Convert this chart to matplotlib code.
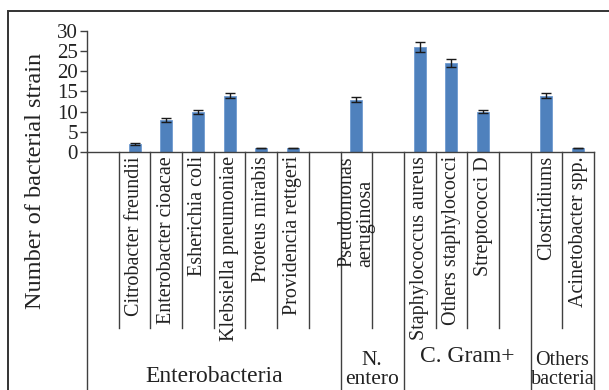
import numpy as np
import matplotlib
matplotlib.use("Agg")
import matplotlib.pyplot as plt
from matplotlib.patches import Rectangle

plt.rcParams['font.family'] = ['Liberation Serif', 'DejaVu Serif']

# Category slots (blank entries are spacer slots inside a group)
categories = ["", "Citrobacter freundii", "Enterobacter cioacae", "Esherichia coli",
              "Klebsiella pneumoniae", "Proteus mirabis", "Providencia rettgeri", "",
              "Pseudomonas\naeruginosa", "",
              "Staphylococcus aureus", "Others staphylococci", "Streptococci D", "",
              "Clostridiums", "Acinetobacter spp."]
counts = [np.nan, 2, 8, 10, 14, 1, 1, np.nan, 13, np.nan, 26, 22, 10, np.nan, 14, 1]
errors = [np.nan, 0.15, 0.5, 0.5, 0.7, 0.1, 0.1, np.nan, 0.6, np.nan, 1.3, 1.0, 0.45, np.nan, 0.65, 0.1]
group_names = ["Enterobacteria", "N.\nentero", "C. Gram+", "Others\nbacteria"]
group_sizes = [8, 2, 4, 2]

W, H, DPI = 609, 390, 100
fig = plt.figure(figsize=(W / DPI, H / DPI), dpi=DPI)

# axes placed in pixel terms
x0, x1, ytop, ybot = 87, 594, 31, 152
ax = fig.add_axes([x0 / W, (H - ybot) / H, (x1 - x0) / W, (ybot - ytop) / H])
ax_h = ybot - ytop

def ay(px):
    """figure pixel row -> axes fraction"""
    return (ybot - px) / ax_h

n = len(categories)
x = np.arange(n)
ax.bar(x, counts, width=0.38, color="#4F81BD", edgecolor="#6F9BD1", linewidth=0.6, zorder=2)
ax.errorbar(x, counts, yerr=errors, fmt="none", ecolor="#1a1a1a", elinewidth=1.0,
            capsize=3.3, capthick=1.0, zorder=3)

ax.set_xlim(-0.5, n - 0.5)
ax.set_ylim(0, 30)
ax.set_yticks(np.arange(0, 31, 5))
ax.set_xticks([])
ax.tick_params(axis="y", direction="out", length=5, width=1, color="#404040",
               labelsize=15, pad=1.5, labelcolor="#222222")
for s in ("top", "right"):
    ax.spines[s].set_visible(False)
for s in ("left", "bottom"):
    ax.spines[s].set_color("#404040")
    ax.spines[s].set_linewidth(1.0)

fig.text(36 / W, 1 - 181 / H, "Number of bacterial strain", rotation=90,
         ha="center", va="center", fontsize=17.5, color="#222222")

tr = ax.get_xaxis_transform()
line_kw = dict(transform=tr, clip_on=False, color="#404040", lw=1.0)

# category labels
for i, lab in enumerate(categories):
    if lab:
        ax.text(i, ay(156), lab, rotation=90, ha="center", va="top",
                multialignment="left", fontsize=14.5, color="#222222",
                linespacing=0.95, transform=tr)

# divider lines: long at group edges, short between categories
edges = np.concatenate([[0], np.cumsum(group_sizes)])
for b in range(n + 1):
    xb = b - 0.5
    if b in edges:
        ax.plot([xb, xb], [0, ay(400)], **line_kw)
    else:
        ax.plot([xb, xb], [0, ay(328)], **line_kw)

# group labels
group_style = [(377, 17), (370, 15.5), (357, 17), (370, 14.5)]
for g, name in enumerate(group_names):
    cx = (edges[g] + edges[g + 1]) / 2 - 0.5
    ycen, fs = group_style[g]
    ax.text(cx, ay(ycen), name, ha="center", va="center", fontsize=fs,
            color="#222222", linespacing=1.05, transform=tr)

# outer chart frame
fig.patches.append(Rectangle((8 / W, -0.1), 1.2, (H - 11) / H + 0.1,
                             transform=fig.transFigure, fill=False,
                             edgecolor="#333333", linewidth=1.4))

fig.savefig("out.png", dpi=DPI)
